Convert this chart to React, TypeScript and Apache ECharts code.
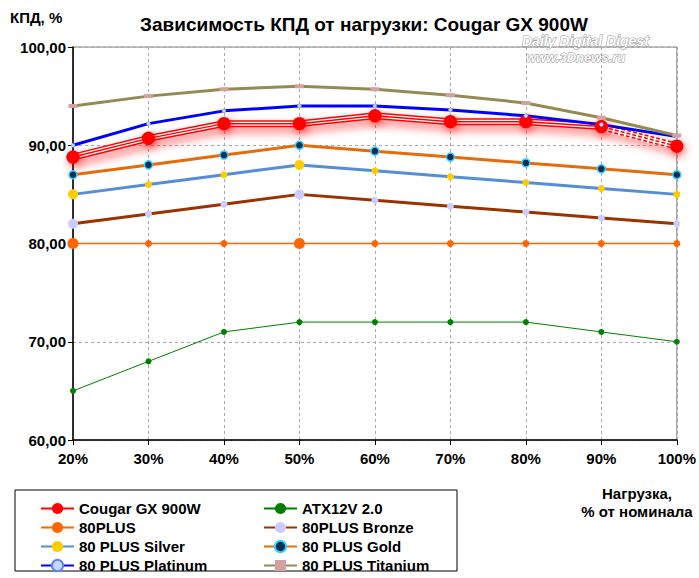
import React, { useEffect, useRef } from "react";
import * as echarts from "echarts";

const categories = ["20%", "30%", "40%", "50%", "60%", "70%", "80%", "90%", "100%"];
const cougar = [88.8, 90.7, 92.2, 92.2, 93.0, 92.4, 92.4, 91.9, 89.9];
const atx12v = [65, 68, 71, 72, 72, 72, 72, 71, 70];
const plus80 = [80, 80, 80, 80, 80, 80, 80, 80, 80];
const bronze = [82, 83, 84, 85, 84.4, 83.8, 83.2, 82.6, 82];
const silver = [85, 86, 87, 88, 87.4, 86.8, 86.2, 85.6, 85];
const gold = [87, 88, 89, 90, 89.4, 88.8, 88.2, 87.6, 87];
const platinum = [90, 92.2, 93.5, 94, 94, 93.6, 93, 92.1, 90.9];
const titanium = [94, 95, 95.7, 96, 95.7, 95.1, 94.3, 92.8, 91];
const bigPointIdx = [0, 3];

const FONT = "'Liberation Sans', Arial, sans-serif";

function withBig(values: number[], small: number, big: number) {
  return values.map((v, i) => ({ value: v, symbolSize: bigPointIdx.includes(i) ? big : small }));
}

export default function App() {
  const ref = useRef<HTMLDivElement>(null);
  useEffect(() => {
    if (!ref.current) return;
    const chart = echarts.init(ref.current, undefined, { renderer: "svg" });
    const legendText = { fontFamily: FONT, fontSize: 15, fontWeight: "bold", color: "#000" };
    chart.setOption({
      animation: false,
      backgroundColor: "#fff",
      grid: { left: 73, right: 22, top: 47, bottom: 138, show: true, borderColor: "#808080", borderWidth: 1 },
      xAxis: {
        type: "category",
        data: categories,
        boundaryGap: false,
        axisLine: { lineStyle: { color: "#000", width: 1.5 } },
        axisTick: { show: true, length: 5, lineStyle: { color: "#000" } },
        axisLabel: { fontFamily: FONT, fontSize: 15, fontWeight: "bold", color: "#000", margin: 11 },
        splitLine: { show: true, lineStyle: { color: "#A8A8A8", type: [3, 3] } },
      },
      yAxis: {
        type: "value",
        min: 60,
        max: 100,
        interval: 10,
        axisLine: { show: true, lineStyle: { color: "#000", width: 1.5 } },
        axisTick: { show: true, length: 5, lineStyle: { color: "#000" } },
        axisLabel: {
          fontFamily: FONT, fontSize: 15, fontWeight: "bold", color: "#000", margin: 7,
          formatter: (v: number) => v.toFixed(2).replace(".", ","),
        },
        splitLine: { show: true, lineStyle: { color: "#A8A8A8", type: [3, 3] } },
      },
      legend: [
        {
          orient: "vertical", left: 35, top: 496, itemWidth: 33, itemHeight: 14, itemGap: 4,
          textStyle: legendText,
          data: ["Cougar GX 900W", "80PLUS", "80 PLUS Silver", "80 PLUS Platinum"],
        },
        {
          orient: "vertical", left: 258, top: 496, itemWidth: 33, itemHeight: 14, itemGap: 4,
          textStyle: legendText,
          data: ["ATX12V 2.0", "80PLUS Bronze", "80 PLUS Gold", "80 PLUS Titanium"],
        },
      ],
      graphic: [
        { type: "rect", shape: { x: 15, y: 490, width: 442, height: 81 }, style: { fill: "none", stroke: "#000", lineWidth: 1 } },
        { type: "text", x: 10, y: 10, style: { text: "КПД, %", font: `bold 15px ${FONT}`, fill: "#000" } },
        { type: "text", x: 364, y: 15, style: { text: "Зависимость КПД от нагрузки: Cougar GX 900W", font: `bold 19px ${FONT}`, fill: "#000", textAlign: "center" } },
        { type: "text", x: 522, y: 34, style: { text: "Daily Digital Digest", font: `italic bold 14px ${FONT}`, fill: "#fff", stroke: "#909090", lineWidth: 1 } },
        { type: "text", x: 526, y: 51, style: { text: "www.3Dnews.ru", font: `italic bold 13px ${FONT}`, fill: "#fff", stroke: "#909090", lineWidth: 1 } },
        { type: "text", x: 637, y: 484, style: { text: "Нагрузка,\n% от номинала", font: `bold 15px ${FONT}`, fill: "#000", textAlign: "center", lineHeight: 18 } },
      ],
      series: [
        {
          name: "Cougar GX 900W", type: "line", data: cougar, symbol: "circle", symbolSize: 13,
          itemStyle: { color: "#FF0000" },
          lineStyle: { color: "#FF0000", width: 7, shadowColor: "rgba(255,0,0,0.55)", shadowBlur: 10, shadowOffsetX: 3, shadowOffsetY: 5 },
        },
        { name: "_c1", type: "line", data: cougar, symbol: "none", silent: true, lineStyle: { color: "#fff", width: 4 } },
        { name: "_c2", type: "line", data: cougar, symbol: "none", silent: true, lineStyle: { color: "#FF0000", width: 1.5 } },
        {
          name: "_c3", type: "line", data: cougar.map((v, i) => (i >= 7 ? v : null)), symbol: "none", silent: true,
          lineStyle: { color: "#fff", width: 8, type: [2, 4] },
        },
        {
          name: "Cougar GX 900W", type: "line", data: cougar, symbol: "circle", symbolSize: 13,
          lineStyle: { width: 0, opacity: 0 },
          itemStyle: { color: "#FF0000", shadowColor: "rgba(255,0,0,0.6)", shadowBlur: 8, shadowOffsetX: 2, shadowOffsetY: 3 },
        },
        {
          name: "ATX12V 2.0", type: "line", data: atx12v, symbol: "circle", symbolSize: 6,
          itemStyle: { color: "#008000" }, lineStyle: { color: "#008000", width: 1 },
        },
        {
          name: "80PLUS", type: "line", data: withBig(plus80, 7, 11), symbol: "circle", symbolSize: 7,
          itemStyle: { color: "#FF6600" }, lineStyle: { color: "#FF6600", width: 1.5 },
        },
        {
          name: "80PLUS Bronze", type: "line", data: withBig(bronze, 7, 10), symbol: "circle", symbolSize: 7,
          itemStyle: { color: "#CCCCFF" }, lineStyle: { color: "#993300", width: 3 },
        },
        {
          name: "80 PLUS Silver", type: "line", data: withBig(silver, 7, 10), symbol: "circle", symbolSize: 7,
          itemStyle: { color: "#FFCC00" }, lineStyle: { color: "#558ED5", width: 3 },
        },
        {
          name: "80 PLUS Gold", type: "line", data: gold, symbol: "circle", symbolSize: 8,
          itemStyle: { color: "#0F2D52", borderColor: "#33CCFF", borderWidth: 1.5 }, lineStyle: { color: "#E46C0A", width: 3 },
        },
        {
          name: "80 PLUS Platinum", type: "line", data: platinum, symbol: "circle", symbolSize: 4,
          itemStyle: { color: "#C8D8FF", borderColor: "#6080FF", borderWidth: 0.5 }, lineStyle: { color: "#0000FF", width: 3 },
        },
        {
          name: "80 PLUS Titanium", type: "line", data: titanium, symbol: "rect", symbolSize: [9, 4],
          itemStyle: { color: "#D4A0A0" }, lineStyle: { color: "#948A54", width: 3 },
        },
      ],
    });
    return () => chart.dispose();
  }, []);
  return <div ref={ref} style={{ width: 699, height: 578, position: "absolute", left: 0, top: 0 }} />;
}
